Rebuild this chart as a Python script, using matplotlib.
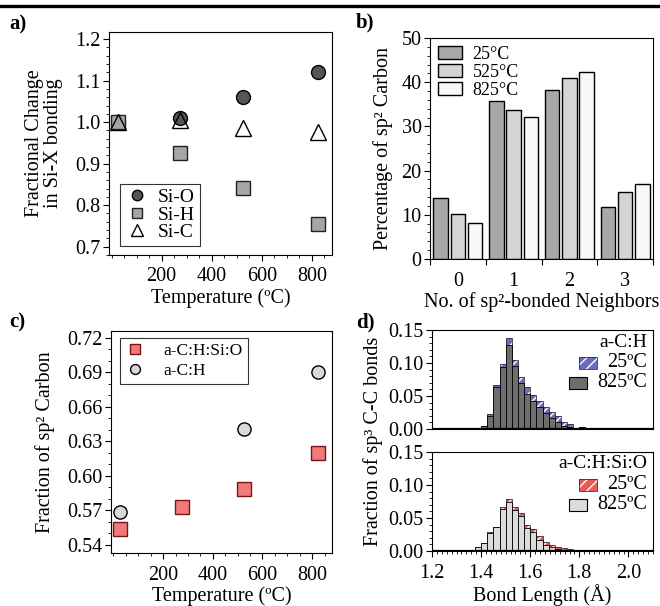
import numpy as np
import matplotlib
matplotlib.use('Agg')
import matplotlib.pyplot as plt
from matplotlib.ticker import MultipleLocator, FixedLocator, NullFormatter
from matplotlib.lines import Line2D
from matplotlib.patches import Rectangle

plt.rcParams['font.family'] = ['Liberation Serif', 'DejaVu Serif']
plt.rcParams['font.size'] = 14.5
plt.rcParams['axes.linewidth'] = 0.8
plt.rcParams['xtick.direction'] = 'out'
plt.rcParams['ytick.direction'] = 'out'
plt.rcParams['xtick.major.size'] = 4
plt.rcParams['ytick.major.size'] = 4
plt.rcParams['xtick.minor.size'] = 2.5
plt.rcParams['ytick.minor.size'] = 2.5
plt.rcParams['xtick.major.pad'] = 5
plt.rcParams['ytick.major.pad'] = 2
plt.rcParams['legend.fontsize'] = 14.5

# ---- panel a data ----
temps_a = [25, 275, 525, 825]
si_o = [1.00, 1.01, 1.06, 1.12]
si_h = [1.00, 0.925, 0.842, 0.755]
si_c = [1.00, 1.005, 0.985, 0.975]

# ---- panel b data ----
neighbors = [0, 1, 2, 3]
pct_25 = [13.7, 35.7, 38.3, 11.8]
pct_525 = [10.2, 33.7, 40.9, 15.1]
pct_825 = [8.1, 32.2, 42.4, 17.0]

# ---- panel c data ----
temps_sio = [25, 275, 525, 825]
frac_sio = [0.554, 0.573, 0.589, 0.620]
temps_ch = [25, 525, 825]
frac_ch = [0.569, 0.641, 0.690]

# ---- panel d data (bins of 0.025 A starting at 1.2) ----
bin_left = [1.200 + 0.025 * k for k in range(36)]
ch_25 = [0, 0, 0, 0, 0, 0, 0, 0, 0.005, 0.022, 0.067, 0.098, 0.138, 0.105,
         0.079, 0.063, 0.052, 0.042, 0.034, 0.026, 0.019, 0.010, 0.008, 0.002,
         0.003, 0, 0, 0, 0, 0, 0, 0, 0, 0, 0, 0.001]
ch_825 = [0, 0, 0, 0, 0, 0, 0, 0, 0.005, 0.020, 0.063, 0.094, 0.128, 0.095,
          0.070, 0.053, 0.042, 0.033, 0.025, 0.016, 0.011, 0.005, 0.003, 0.001,
          0.003, 0, 0, 0, 0, 0, 0, 0, 0, 0, 0, 0]
sio_25 = [0.002, 0, 0, 0, 0, 0, 0, 0.006, 0.012, 0.029, 0.037, 0.066, 0.079,
          0.067, 0.057, 0.040, 0.034, 0.023, 0.013, 0.009, 0.006, 0.0045, 0.003,
          0.002, 0.001, 0, 0, 0, 0, 0, 0, 0.002, 0, 0, 0, 0]
sio_825 = [0.002, 0, 0, 0, 0, 0, 0, 0.006, 0.012, 0.027, 0.036, 0.063, 0.074,
           0.062, 0.053, 0.035, 0.029, 0.017, 0.009, 0.006, 0.0035, 0.002, 0.001,
           0, 0, 0, 0, 0, 0, 0, 0, 0, 0, 0, 0, 0.001]

W, H = 660, 606
fig = plt.figure(figsize=(W / 100, H / 100), dpi=100)


def box(l, t, r, b):
    return [l / W, 1 - b / H, (r - l) / W, (b - t) / H]


# top page rule
fig.add_artist(Line2D([0, 1], [1 - 5.5 / H, 1 - 5.5 / H], color='black', lw=2.4,
                      transform=fig.transFigure))

# ---------------- a ----------------
ax = fig.add_axes(box(109, 32, 332, 255))
ax.plot(temps_a, si_o, 'o', ms=10, mfc='#555555', mec='black', mew=1, label='Si-O')
ax.plot(temps_a, si_h, 's', ms=10, mfc='#a6a6a6', mec='#222222', mew=1, label='Si-H')
ax.plot(temps_a, si_c, '^', ms=11, mfc='none', mec='black', mew=1, label='Si-C')
ax.set_xlim(-10, 880)
ax.set_ylim(0.68, 1.217)
ax.xaxis.set_major_locator(FixedLocator([200, 400, 600, 800]))
ax.xaxis.set_minor_locator(MultipleLocator(50))
ax.yaxis.set_major_locator(MultipleLocator(0.1))
ax.yaxis.set_minor_locator(MultipleLocator(0.02))
ax.set_xlabel('Temperature (ºC)', labelpad=1)
ax.set_ylabel('Fractional Change\nin Si-X bonding', linespacing=0.95, labelpad=9)
leg = ax.legend(loc='lower left', fancybox=False, edgecolor='black', borderpad=0.25,
                handletextpad=0.5, labelspacing=0.0, handlelength=1.2,
                markerscale=0.75, bbox_to_anchor=(0.05, 0.04), borderaxespad=0,
                fontsize=14)
leg.get_frame().set_linewidth(0.8)

# ---------------- b ----------------
ax = fig.add_axes(box(430, 38, 653, 259))
x = np.array(neighbors)
w = 0.26
ax.bar(x - 0.31, pct_25, w, color='#a8a8a8', edgecolor='black', lw=1, label='25°C')
ax.bar(x, pct_525, w, color='#d4d4d4', edgecolor='black', lw=1, label='525°C')
ax.bar(x + 0.31, pct_825, w, color='#f8f8f8', edgecolor='black', lw=1, label='825°C')
ax.set_xlim(-0.5, 3.5)
ax.set_ylim(0, 50)
ax.xaxis.set_major_locator(FixedLocator([-0.5, 0.5, 1.5, 2.5, 3.5]))
ax.xaxis.set_major_formatter(NullFormatter())
ax.xaxis.set_minor_locator(FixedLocator(neighbors))
ax.set_xticklabels([str(n) for n in neighbors], minor=True)
ax.tick_params(axis='x', which='minor', length=0, pad=9)
ax.yaxis.set_major_locator(MultipleLocator(10))
ax.yaxis.set_minor_locator(MultipleLocator(2))
ax.set_xlabel('No. of sp²-bonded Neighbors', labelpad=1)
ax.set_ylabel('Percentage of sp² Carbon', labelpad=6)
ax.legend(loc='upper left', frameon=False, borderpad=0.1, handletextpad=0.6,
          labelspacing=0.05, handlelength=1.3, handleheight=0.75,
          borderaxespad=0.35, fontsize=13)

# ---------------- c ----------------
ax = fig.add_axes(box(111, 331, 332, 553))
ax.plot(temps_sio, frac_sio, 's', ms=10, mfc='#f07a7a', mec='#7a1515', mew=1,
        label='a-C:H:Si:O')
ax.plot(temps_ch, frac_ch, 'o', ms=9.5, mfc='#d9d9d9', mec='black', mew=1,
        label='a-C:H')
ax.set_xlim(-10, 880)
ax.set_ylim(0.533, 0.726)
ax.xaxis.set_major_locator(FixedLocator([200, 400, 600, 800]))
ax.xaxis.set_minor_locator(MultipleLocator(50))
ax.yaxis.set_major_locator(FixedLocator([0.54, 0.57, 0.60, 0.63, 0.66, 0.69, 0.72]))
ax.yaxis.set_minor_locator(MultipleLocator(0.01))
ax.set_yticklabels(['0.54', '0.57', '0.60', '0.63', '0.66', '0.69', '0.72'])
ax.set_xlabel('Temperature (ºC)', labelpad=1)
ax.set_ylabel('Fraction of sp² Carbon', labelpad=9)
leg = ax.legend(loc='upper left', fancybox=False, edgecolor='black', borderpad=0.3,
                handletextpad=1.1, labelspacing=0.2, handlelength=1.1,
                markerscale=0.75, bbox_to_anchor=(0.04, 0.97), borderaxespad=0,
                fontsize=12.5)
leg.get_frame().set_linewidth(0.8)

# ---------------- d ----------------
bw = 0.025
edges = np.array(bin_left)


def hist_panel(rect, old, new, old_col, new_col, title, show_x):
    ax = fig.add_axes(rect)
    ax.bar(edges, old, bw, align='edge', color=old_col, edgecolor='white',
           hatch='///', lw=0)
    ax.bar(edges, old, bw, align='edge', color='none', edgecolor='#333333', lw=0.6)
    ax.bar(edges, new, bw, align='edge', color=new_col, edgecolor='black', lw=0.6)
    ax.axhline(0, color='black', lw=1.6)
    ax.set_xlim(1.2, 2.1)
    ax.set_ylim(0, 0.15)
    ax.yaxis.set_minor_locator(MultipleLocator(0.01))
    ax.set_yticks([0, 0.05, 0.10, 0.15])
    ax.set_yticklabels(['0.00', '0.05', '0.10', '0.15'])
    ax.xaxis.set_minor_locator(MultipleLocator(0.02))
    if show_x:
        ax.set_xticks([1.2, 1.4, 1.6, 1.8, 2.0])
        ax.set_xticklabels(['1.2', '1.4', '1.6', '1.8', '2.0'])
        ax.set_xlabel('Bond Length (Å)', labelpad=1)
    else:
        ax.tick_params(axis='x', which='both', length=0, labelbottom=False)
    # legend drawn by hand: title, hatched 25ºC box, solid 825ºC box
    ax.text(0.975, title[1], title[0], transform=ax.transAxes, ha='right', va='center',
            fontsize=14)
    ax.text(0.975, 0.67, '25ºC', transform=ax.transAxes, ha='right', va='center')
    ax.text(0.975, 0.465, '825ºC', transform=ax.transAxes, ha='right', va='center')
    ax.add_patch(Rectangle((0.665, 0.61), 0.08, 0.12, transform=ax.transAxes,
                           facecolor=old_col, edgecolor='white', hatch='///', lw=0))
    ax.add_patch(Rectangle((0.665, 0.61), 0.08, 0.12, transform=ax.transAxes,
                           facecolor='none', edgecolor='#333333', lw=0.6))
    ax.add_patch(Rectangle((0.62, 0.405), 0.08, 0.12, transform=ax.transAxes,
                           facecolor=new_col, edgecolor='black', lw=0.8))
    return ax


hist_panel(box(432, 330, 653, 429), ch_25, ch_825, '#6b6bbf', '#6e6e6e',
           ('a-C:H', 0.87), False)
hist_panel(box(432, 452, 653, 551), sio_25, sio_825, '#e85a5a', '#dcdcdc',
           ('a-C:H:Si:O', 0.88), True)

fig.text(373 / W, 1 - 441 / H, 'Fraction of sp³ C-C bonds', rotation=90,
         ha='center', va='center')

# panel labels
for lab, px, py in [('a)', 9, 24), ('b)', 356, 22), ('c)', 9, 322), ('d)', 356, 322)]:
    fig.text(px / W, 1 - py / H, lab, fontsize=15, fontweight='bold', ha='left', va='center')

fig.savefig('out.png', dpi=100)
